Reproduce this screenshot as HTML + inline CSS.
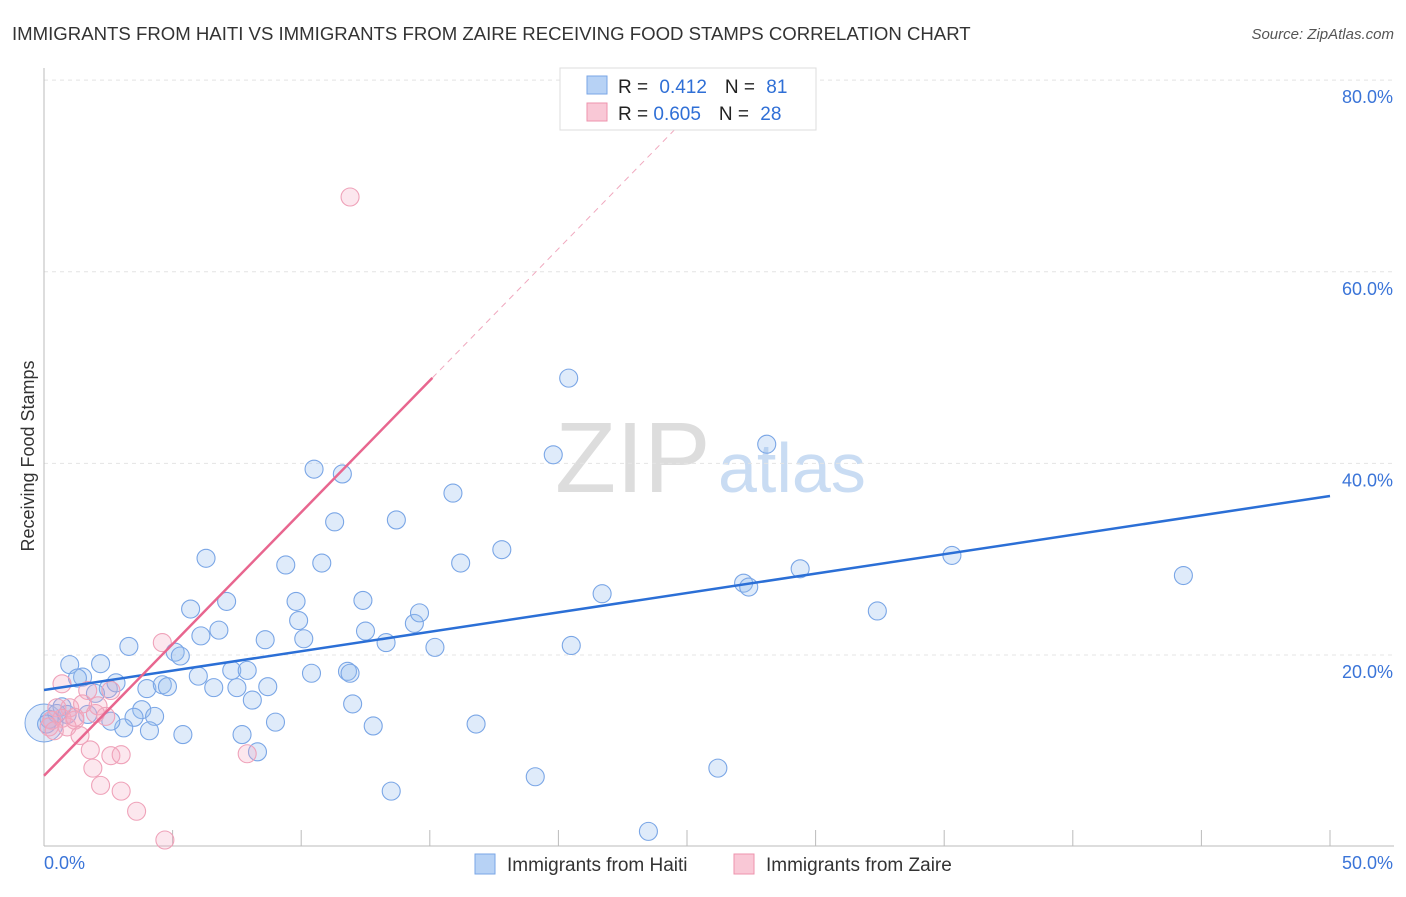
<!DOCTYPE html>
<html><head><meta charset="utf-8"><style>
body{margin:0;background:#fff;font-family:"Liberation Sans",sans-serif;}
svg text{font-family:"Liberation Sans",sans-serif;}
</style></head><body>
<svg id="c" width="1406" height="892">
<text x="12" y="40" font-size="18.6" fill="#333">IMMIGRANTS FROM HAITI VS IMMIGRANTS FROM ZAIRE RECEIVING FOOD STAMPS CORRELATION CHART</text>
<text x="1394" y="39" font-size="15" fill="#555" text-anchor="end" font-style="italic">Source: ZipAtlas.com</text>
<text x="34" y="456" font-size="18" fill="#333" text-anchor="middle" transform="rotate(-90 34 456)">Receiving Food Stamps</text>
<text x="555" y="492" font-size="100" fill="#ddd" font-family="Liberation Serif">ZIP</text>
<text x="718" y="492" font-size="70" fill="#c9dcf3">atlas</text>
<g id="grid"></g><g id="pts"></g><g id="lines"></g>
<g>
<rect x="560" y="68" width="256" height="62" fill="#fff" stroke="#ddd"/>
<rect x="587" y="76" width="20" height="18" fill="#b7d2f5" stroke="#7aa6e6"/>
<rect x="587" y="103" width="20" height="18" fill="#f9c8d6" stroke="#ee93ad"/>
<text x="618" y="93" font-size="19" fill="#222">R = <tspan fill="#2f6fd6" dx="6">0.412</tspan><tspan dx="18" fill="#222">N = </tspan><tspan fill="#2f6fd6" dx="6">81</tspan></text>
<text x="618" y="120" font-size="19" fill="#222">R = <tspan fill="#2f6fd6">0.605</tspan><tspan dx="18" fill="#222">N = </tspan><tspan fill="#2f6fd6" dx="6">28</tspan></text>
</g>
<g>
<rect x="475" y="854" width="20" height="20" fill="#b7d2f5" stroke="#7aa6e6"/>
<text x="507" y="871" font-size="19" fill="#333">Immigrants from Haiti</text>
<rect x="734" y="854" width="20" height="20" fill="#f9c8d6" stroke="#ee93ad"/>
<text x="766" y="871" font-size="19" fill="#333">Immigrants from Zaire</text>
</g>
</svg>
<script>
const yTicks=[20,40,60,80];
const xTickLabels=["0.0%","50.0%"];
const haitiX=[1.0,2.2,1.5,1.3,2.5,2.8,3.3,4.0,4.6,4.8,5.1,5.3,5.7,6.3,6.1,7.1,6.8,6.6,6.0,7.3,7.5,7.9,8.1,7.7,8.3,8.6,8.7,9.0,9.4,9.8,9.9,10.1,10.4,10.5,10.8,11.3,11.6,11.8,11.9,12.0,12.4,12.5,12.8,13.3,13.5,13.7,14.4,14.6,15.2,15.9,16.2,16.8,17.8,19.1,19.8,20.4,20.5,21.7,23.5,26.2,27.2,27.4,28.1,29.4,32.4,35.3,44.3,3.8,3.5,4.3,4.1,3.1,2.6,5.4,1.7,2.0,0.7,0.9,0.5,0.2,0.1];
const haitiY=[19.0,19.1,17.7,17.6,16.5,17.1,20.9,16.5,16.9,16.7,20.3,19.9,24.8,30.1,22.0,25.6,22.6,16.6,17.8,18.4,16.6,18.4,15.3,11.7,9.9,21.6,16.7,13.0,29.4,25.6,23.6,21.7,18.1,39.4,29.6,33.9,38.9,18.3,18.1,14.9,25.7,22.5,12.6,21.3,5.8,34.1,23.3,24.4,20.8,36.9,29.6,12.8,31.0,7.3,40.9,48.9,21.0,26.4,1.6,8.2,27.5,27.1,42.0,29.0,24.6,30.4,28.3,14.3,13.5,13.6,12.1,12.4,13.1,11.7,13.8,16.0,14.6,13.8,13.9,13.3,12.8];
const zaireX=[11.9,4.6,0.7,1.7,2.6,1.0,2.1,2.4,0.5,0.7,1.2,0.9,0.3,0.2,1.8,1.9,2.6,3.0,2.2,3.0,3.6,4.7,7.9,1.5,1.4,0.4,2.0,1.2];
const zaireY=[67.8,21.3,17.0,16.3,16.3,14.5,14.7,13.6,14.5,13.4,13.2,12.5,13.2,12.5,10.1,8.2,9.5,9.6,6.4,5.8,3.7,0.7,9.7,14.9,11.6,12.1,13.9,13.5];
const haitiLine=[16.35,36.6];
const zaireLine=[7.4,2.75];
const X=v=>44+v/50*1286, Y=v=>846.7-v/20*191.65;
const NS="http://www.w3.org/2000/svg";
function mk(t,a,p){const e=document.createElementNS(NS,t);for(const k in a)e.setAttribute(k,a[k]);p.appendChild(e);return e;}
const g=document.getElementById('grid');
for(const t of yTicks){const l=mk('line',{x1:44,x2:1394,y1:Y(t),y2:Y(t),stroke:'#e4e4e4','stroke-dasharray':'4,4'},g);


const tx=mk('text',{x:1393,y:Y(t)+23,'font-size':18,fill:'#3a74d8','text-anchor':'end'},g);tx.textContent=t.toFixed(1)+'%';

}
mk('line',{x1:44,x2:44,y1:68,y2:846,stroke:'#bbb'},g);
mk('line',{x1:44,x2:1394,y1:846,y2:846,stroke:'#bbb'},g);
for(let i=1;i<=10;i++){mk('line',{x1:X(i*5),x2:X(i*5),y1:830,y2:846,stroke:'#bbb'},g);}
const t0=mk('text',{x:44,y:869,'font-size':18,fill:'#3a74d8'},g);t0.textContent=xTickLabels[0];


const t1=mk('text',{x:1393,y:869,'font-size':18,fill:'#3a74d8','text-anchor':'end'},g);t1.textContent=xTickLabels[1];


const p=document.getElementById('pts');
const bb=mk('circle',{cx:44,cy:723,r:19,fill:'rgba(150,188,238,0.3)',stroke:'#7aa6e6'},p);
haitiX.forEach((x,i)=>{const c=mk('circle',{cx:X(x),cy:Y(haitiY[i]),r:9,fill:'rgba(150,188,238,0.3)',stroke:'#7aa6e6','stroke-width':1.1},p);

});
zaireX.forEach((x,i)=>{const c=mk('circle',{cx:X(x),cy:Y(zaireY[i]),r:9,fill:'rgba(245,170,195,0.28)',stroke:'#efa2b9','stroke-width':1.1},p);

});
const L=document.getElementById('lines');
const hl=mk('line',{x1:X(0),y1:Y(haitiLine[0]),x2:X(50),y2:Y(haitiLine[1]),stroke:'#2b6fd6','stroke-width':2.5},L);


const zl=mk('line',{x1:X(0),y1:Y(zaireLine[0]),x2:X(15.1),y2:Y(zaireLine[0]+zaireLine[1]*15.1),stroke:'#e8668f','stroke-width':2.5},L);


const zd=mk('line',{x1:X(15.1),y1:Y(zaireLine[0]+zaireLine[1]*15.1),x2:X(24.7),y2:Y(zaireLine[0]+zaireLine[1]*24.7),stroke:'#f0a8be','stroke-width':1,'stroke-dasharray':'6,5'},L);


</script>
</body></html>
